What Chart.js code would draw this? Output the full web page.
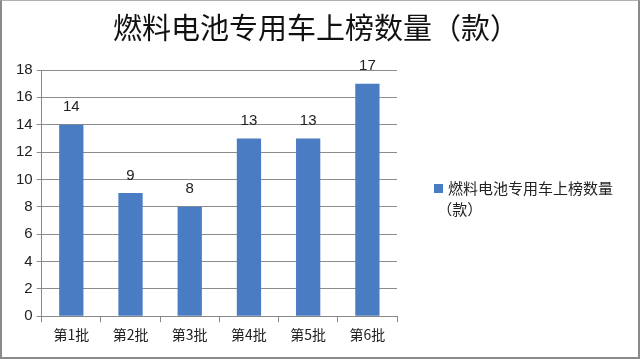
<!DOCTYPE html>
<html><head><meta charset="utf-8">
<script src="https://cdn.jsdelivr.net/npm/chart.js@4.4.0/dist/chart.umd.min.js"></script>
<style>
html,body{margin:0;padding:0;background:#fff;}
#wrap{position:relative;width:640px;height:359px;box-sizing:border-box;border:2px solid #8a8a8a;border-top:1px solid #b0b0b0;}
#c{position:absolute;left:0;top:0;}
#legend{position:absolute;left:432px;top:176px;font-family:"Noto Sans CJK SC";font-size:15px;color:#222;line-height:21px;}
#legend .sw{display:inline-block;width:9px;height:9px;background:#4a7cc3;margin-right:5px;vertical-align:1px;}
</style></head><body>
<div id="wrap"><canvas id="c" width="636" height="356"></canvas>
<div id="legend"><span class="sw"></span>燃料电池专用车上榜数量<br>&nbsp;（款）</div></div>
<script>
const categories=["第1批","第2批","第3批","第4批","第5批","第6批"];
const values=[14,9,8,13,13,17];
const seriesName="燃料电池专用车上榜数量（款）";
const titleText="燃料电池专用车上榜数量（款）";

const labelPlugin={id:'lbl',afterDatasetsDraw(chart){
  const ctx=chart.ctx;const meta=chart.getDatasetMeta(0);
  ctx.save();ctx.font='15px "Liberation Sans"';ctx.fillStyle='#222';ctx.textAlign='center';ctx.textBaseline='bottom';
  meta.data.forEach((b,i)=>{ctx.fillText(String(values[i]),b.x,b.y-10);});
  ctx.fillStyle='#111';ctx.font='29px "Noto Sans CJK SC"';ctx.textBaseline='middle';
  ctx.fillText(titleText,314,27);
  ctx.restore();}};

new Chart(document.getElementById('c'),{
  type:'bar',
  data:{labels:categories,datasets:[{label:seriesName,data:values,backgroundColor:'#4a7cc3',barPercentage:0.41,categoryPercentage:1}]},
  options:{responsive:false,animation:false,
    layout:{padding:{left:10,right:241,top:69,bottom:10}},
    plugins:{legend:{display:false},tooltip:{enabled:false},title:{display:false}},
    scales:{
      x:{grid:{offset:true,drawOnChartArea:false,color:'#888',tickLength:6},border:{color:'#888'},
        ticks:{color:'#222',font:{family:'"Noto Sans CJK SC"',size:14},padding:4}},
      y:{min:0,max:18,ticks:{stepSize:2,color:'#222',font:{family:'"Liberation Sans"',size:15},padding:4},
        grid:{color:'#8c8c8c',tickLength:5},border:{color:'#888'}}
    }}
  ,plugins:[labelPlugin]});
</script></body></html>
